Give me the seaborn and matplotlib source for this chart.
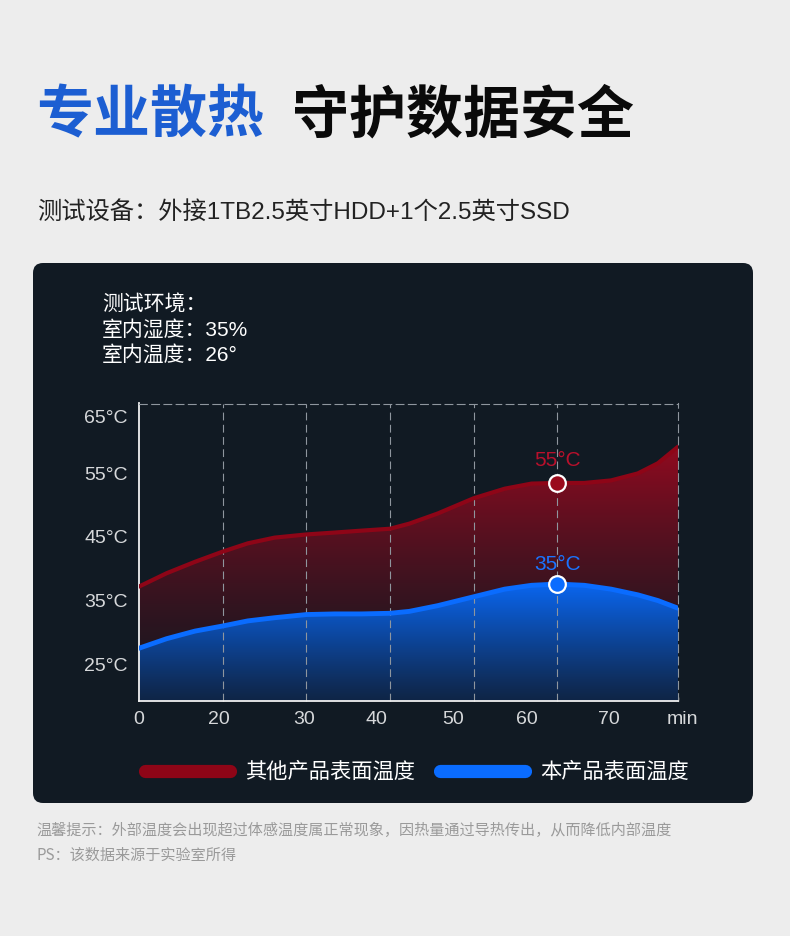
import numpy as np
import seaborn as sns
import matplotlib.pyplot as plt
from matplotlib import font_manager as fm
from matplotlib.colors import to_rgb
from matplotlib.lines import Line2D
from matplotlib.patches import FancyBboxPatch, Polygon

# x positions are in units of one grid column (dashed lines sit at 1..5)
grid_x = [0, 0.33, 0.67, 1, 1.30, 1.62, 2, 2.34, 2.66, 3, 3.23, 3.57, 4, 4.37, 4.69, 5, 5.32, 5.64, 5.96, 6.20, 6.44]
other_temp = [37.2, 39.3, 41.1, 42.7, 44.0, 44.9, 45.4, 45.7, 46.0, 46.3, 47.1, 48.7, 51.1, 52.6, 53.4, 53.5,
              53.5, 53.9, 55.0, 56.6, 59.2]
ours_temp = [27.5, 29.0, 30.2, 31.0, 31.8, 32.3, 32.8, 32.9, 32.9, 33.0, 33.3, 34.2, 35.6, 36.8, 37.4, 37.6,
             37.4, 36.8, 35.9, 35.0, 33.8]

grid_lines = [1, 2, 3, 4, 5]
x_tick_pos = [0, 0.955, 1.97, 2.84, 3.75, 4.64, 5.62]
x_tick_labels = ["0", "20", "30", "40", "50", "60", "70"]
y_ticks = [25, 35, 45, 55, 65]
y_tick_labels = ["25°C", "35°C", "45°C", "55°C", "65°C"]

peak_x = 5
peak_other, peak_ours = 53.5, 37.6
peak_labels = ["55°C", "35°C"]
series_names = ["其他产品表面温度", "本产品表面温度"]

RED = "#8e0517"
RED_TXT = "#b8102c"
BLUE = "#0a6cff"
PANEL = "#111a23"
BG = "#ededed"

sns.set_theme(style="dark")
plt.rcParams["font.family"] = ["Noto Sans CJK SC", "DejaVu Sans"]
plt.rcParams["axes.facecolor"] = "none"

names = {f.name for f in fm.fontManager.ttflist}
narrow = "Liberation Sans Narrow" if "Liberation Sans Narrow" in names else "Liberation Sans"
mixed = ["Liberation Sans", "Noto Sans CJK SC"]


def gradient_fill(ax, x, y, top_color, bottom_color, y_bottom, zorder, power=1.0):
    y_top = max(y) + 0.5
    verts = [(x[0], y_bottom)] + list(zip(x, y)) + [(x[-1], y_bottom)]
    poly = Polygon(verts, closed=True, facecolor="none", edgecolor="none")
    ax.add_patch(poly)
    t = np.linspace(0, 1, 256)[:, None, None] ** power
    c0 = np.array(to_rgb(bottom_color))
    c1 = np.array(to_rgb(top_color))
    img = c0 + (c1 - c0) * t
    im = ax.imshow(img, extent=[x[0], x[-1], y_bottom, y_top], origin="lower",
                   aspect="auto", zorder=zorder, interpolation="bilinear")
    im.set_clip_path(poly)


fig = plt.figure(figsize=(7.9, 9.36), dpi=100, facecolor=BG)

# background layer in pixel units
bg = fig.add_axes([0, 0, 1, 1], zorder=-1)
bg.set_xlim(0, 790)
bg.set_ylim(936, 0)
bg.axis("off")
bg.add_patch(FancyBboxPatch((33, 263), 720, 540, boxstyle="round,pad=0,rounding_size=10",
                            facecolor=PANEL, edgecolor="none"))

bg.text(36, 115, "专业散热", color="#1c5ed2", fontsize=41, fontweight="bold", va="center", ha="left")
bg.text(292, 115, "守护数据安全", color="#0a0a0a", fontsize=41, fontweight="bold", va="center", ha="left")
bg.text(37, 212, "测试设备：外接1TB2.5英寸HDD+1个2.5英寸SSD", color="#222222", fontsize=17.5,
        va="center", ha="left", family=mixed)

for i, line in enumerate(["测试环境：", "室内湿度：35%", "室内温度：26°"]):
    bg.text(102, 305 + 25 * i, line, color="white", fontsize=15, va="center", ha="left", family=mixed)

bg.text(36, 830, "温馨提示：外部温度会出现超过体感温度属正常现象，因热量通过导热传出，从而降低内部温度",
        color="#9a9a9a", fontsize=10.9, va="center", ha="left")
bg.text(36, 855, "PS：该数据来源于实验室所得", color="#9a9a9a", fontsize=10.9, va="center", ha="left")

# chart
ax = fig.add_axes([139 / 790, 1 - 701 / 936, 539 / 790, 297.5 / 936])
ylim = (19.2, 66.0)
xlim = (0, 6.44)

gradient_fill(ax, grid_x, other_temp, "#930a20", "#17171f", ylim[0], 1, power=1.5)
gradient_fill(ax, grid_x, ours_temp, "#0a68f5", "#0f2546", ylim[0], 2, power=1.1)

for gx in grid_lines:
    ax.axvline(gx, color="#8f969e", lw=0.8, ls=(0, (7, 4)), zorder=2.5)

sns.lineplot(x=grid_x, y=other_temp, ax=ax, color=RED, lw=3, sort=False, zorder=3,
             solid_joinstyle="round")
sns.lineplot(x=grid_x, y=ours_temp, ax=ax, color=BLUE, lw=3.5, sort=False, zorder=4,
             solid_joinstyle="round")

ax.plot([peak_x], [peak_other], "o", ms=12, mfc="#9a0a1c", mec="white", mew=1.6, zorder=6, clip_on=False)
ax.plot([peak_x], [peak_ours], "o", ms=12, mfc=BLUE, mec="white", mew=1.6, zorder=6, clip_on=False)
ax.annotate(peak_labels[0], (peak_x, peak_other), xytext=(0, 16), textcoords="offset points",
            ha="center", va="center", color=RED_TXT, fontsize=15, family="Liberation Sans")
ax.annotate(peak_labels[1], (peak_x, peak_ours), xytext=(0, 14), textcoords="offset points",
            ha="center", va="center", color="#1a74ff", fontsize=15, family="Liberation Sans")

ax.set_xlim(*xlim)
ax.set_ylim(*ylim)
ax.grid(False)

ax.set_xticks(x_tick_pos)
ax.set_xticklabels(x_tick_labels)
ax.set_xticks(grid_lines + [xlim[1]], minor=True)
ax.set_yticks(y_ticks)
ax.set_yticklabels(y_tick_labels)
ax.tick_params(axis="both", which="major", length=0, colors="#d6d8da", labelsize=14)
ax.tick_params(axis="x", which="major", pad=7)
ax.tick_params(axis="y", which="major", pad=8)
ax.tick_params(axis="x", which="minor", direction="in", length=3, width=1, color="#d6d8da", bottom=True)
for lab in ax.get_xticklabels() + ax.get_yticklabels():
    lab.set_family(narrow)
# the top label sits a little lower than its gridline in the original
ax.get_yticklabels()[-1].set_va("top")
ax.text(1.0075, -0.062, "min", transform=ax.transAxes, ha="center", va="center",
        color="#d6d8da", fontsize=14, family=narrow, clip_on=False)

for side in ["left", "bottom"]:
    ax.spines[side].set_color("#f0f0f0")
    ax.spines[side].set_linewidth(1.3)
for side in ["top", "right"]:
    ax.spines[side].set_color("#8f969e")
    ax.spines[side].set_linewidth(0.8)
    ax.spines[side].set_linestyle((0, (7, 4)))
ax.set_xlabel("")
ax.set_ylabel("")

handles = [Line2D([0], [0], color="#8e0517", lw=9.5, solid_capstyle="round"),
           Line2D([0], [0], color=BLUE, lw=9.5, solid_capstyle="round")]
fig.legend(handles, series_names, loc="center", bbox_to_anchor=(417 / 790, 1 - 772 / 936), ncol=2,
           frameon=False, handlelength=4.0, handletextpad=0.72, columnspacing=1.2,
           prop={"family": "Noto Sans CJK SC", "size": 15.3}, labelcolor="white")

fig.savefig("out.png", dpi=100, facecolor=BG)
